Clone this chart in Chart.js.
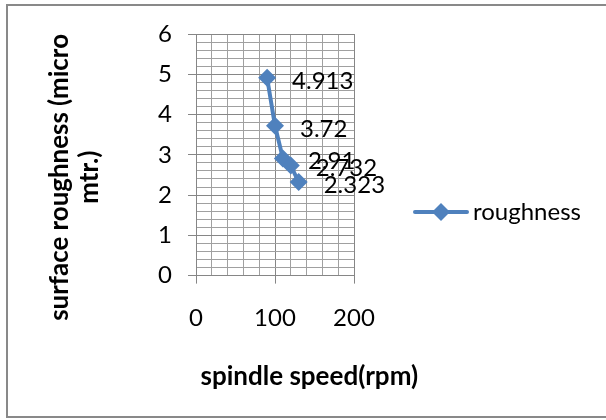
<!DOCTYPE html>
<html>
<head>
<meta charset="utf-8">
<script src="https://cdn.jsdelivr.net/npm/chart.js@4/dist/chart.umd.min.js"></script>
<style>
  body { margin: 0; background: #fff; }
  canvas { display: block; }
</style>
</head>
<body>
<canvas id="chart" width="606" height="420"></canvas>
<script>
// spindle speed (rpm) and measured roughness (micro mtr.)
const speeds = [90, 100, 110, 120, 130];
const roughness = [4.913, 3.72, 2.91, 2.732, 2.323];
const seriesName = 'roughness';
const xTitle = 'spindle speed(rpm)';
const yTitle = ['surface roughness (micro', 'mtr.)'];

const blue = '#4F81BD';
const font = 'Lato';

// legend symbol: short line with a diamond on it
function legendSymbol() {
  const c = document.createElement('canvas');
  c.width = 56; c.height = 20;
  const g = c.getContext('2d');
  g.strokeStyle = blue; g.lineWidth = 4; g.lineCap = 'round';
  g.beginPath(); g.moveTo(2, 10); g.lineTo(54, 10); g.stroke();
  g.fillStyle = blue;
  g.beginPath(); g.moveTo(28, 1); g.lineTo(37, 10); g.lineTo(28, 19); g.lineTo(19, 10); g.closePath(); g.fill();
  return c;
}

// draw the value next to each point
const valueLabels = {
  id: 'valueLabels',
  afterDatasetsDraw(chart) {
    const ctx = chart.ctx;
    const meta = chart.getDatasetMeta(0);
    ctx.save();
    ctx.font = '24px ' + font;
    ctx.fillStyle = '#000';
    ctx.textAlign = 'left';
    ctx.textBaseline = 'middle';
    meta.data.forEach((pt, i) => {
      ctx.fillText(String(roughness[i]), pt.x + 25, pt.y + 3);
    });
    ctx.restore();
  }
};

// outer frame of the chart
const frame = {
  id: 'frame',
  beforeDraw(chart) {
    const ctx = chart.ctx;
    ctx.save();
    ctx.fillStyle = '#fff';
    ctx.fillRect(0, 0, chart.width, chart.height);
    ctx.strokeStyle = '#898989';
    ctx.lineWidth = 2;
    ctx.strokeRect(7, 5, 620, 412);
    ctx.restore();
  }
};

const isWhole = v => Math.abs(v - Math.round(v)) < 1e-6;

new Chart(document.getElementById('chart'), {
  type: 'line',
  data: {
    datasets: [{
      label: seriesName,
      data: speeds.map((s, i) => ({ x: s, y: roughness[i] })),
      borderColor: blue,
      backgroundColor: blue,
      borderWidth: 4,
      pointStyle: 'rectRot',
      pointRadius: 9,
      pointHoverRadius: 9,
      pointBorderWidth: 0,
      tension: 0
    }]
  },
  options: {
    responsive: false,
    animation: false,
    events: [],
    layout: { padding: { left: 0, top: 34, right: 0, bottom: 30 } },
    scales: {
      x: {
        type: 'linear',
        min: 0,
        max: 200,
        afterFit(s) { s.height = 88; s.paddingRight = 252; },
        ticks: {
          stepSize: 20,
          autoSkip: false,
          maxRotation: 0,
          minRotation: 0,
          padding: 20,
          color: '#000',
          font: { family: font, size: 24 },
          callback: v => (v % 100 === 0 ? String(v) : '')
        },
        grid: {
          color: c => (c.tick && c.tick.value % 100 === 0 ? '#868686' : '#a0a0a0'),
          tickColor: c => (c.tick && c.tick.value % 100 === 0 ? '#868686' : 'rgba(0,0,0,0)'),
          tickLength: 8,
          lineWidth: 1
        },
        border: { color: '#868686', width: 1 }
      },
      y: {
        type: 'linear',
        min: 0,
        max: 6,
        afterFit(s) { s.width = 196 - s.chart.titleBlockWidth; },
        ticks: {
          stepSize: 0.2,
          autoSkip: false,
          padding: 16,
          color: '#000',
          font: { family: font, size: 24 },
          callback: v => (isWhole(v) ? String(Math.round(v)) : '')
        },
        grid: {
          color: c => (c.tick && isWhole(c.tick.value) ? '#868686' : '#a0a0a0'),
          tickColor: c => (c.tick && isWhole(c.tick.value) ? '#868686' : 'rgba(0,0,0,0)'),
          tickLength: 8,
          lineWidth: 1
        },
        border: { color: '#868686', width: 1 }
      }
    },
    plugins: {
      tooltip: { enabled: false },
      title: {
        display: true,
        position: 'bottom',
        text: '  ' + xTitle,
        color: '#000',
        font: { family: font, size: 26, weight: 'bold', lineHeight: 1.015 },
        padding: { top: 0, bottom: 0 }
      },
      subtitle: {
        display: true,
        position: 'left',
        text: yTitle.map(t => '           ' + t),
        color: '#000',
        font: { family: font, size: 26, weight: 'bold', lineHeight: 1.154 },
        padding: { top: 45, bottom: 0 }
      },
      legend: {
        position: 'right',
        maxWidth: 300,
        labels: {
          usePointStyle: true,
          pointStyleWidth: 40,
          padding: 67,
          color: '#000',
          font: { family: font, size: 24 },
          generateLabels(chart) {
            return [{
              text: seriesName,
              pointStyle: legendSymbol(),
              fillStyle: blue,
              strokeStyle: blue,
              lineWidth: 0,
              datasetIndex: 0,
              hidden: false
            }];
          }
        }
      }
    }
  },
  plugins: [{
    // width of the left title block, so the plot starts where the reference does
    id: 'titleBlock',
    beforeLayout(chart) { chart.titleBlockWidth = 45 + 2 * 30; }
  }, frame, valueLabels]
});
</script>
</body>
</html>
